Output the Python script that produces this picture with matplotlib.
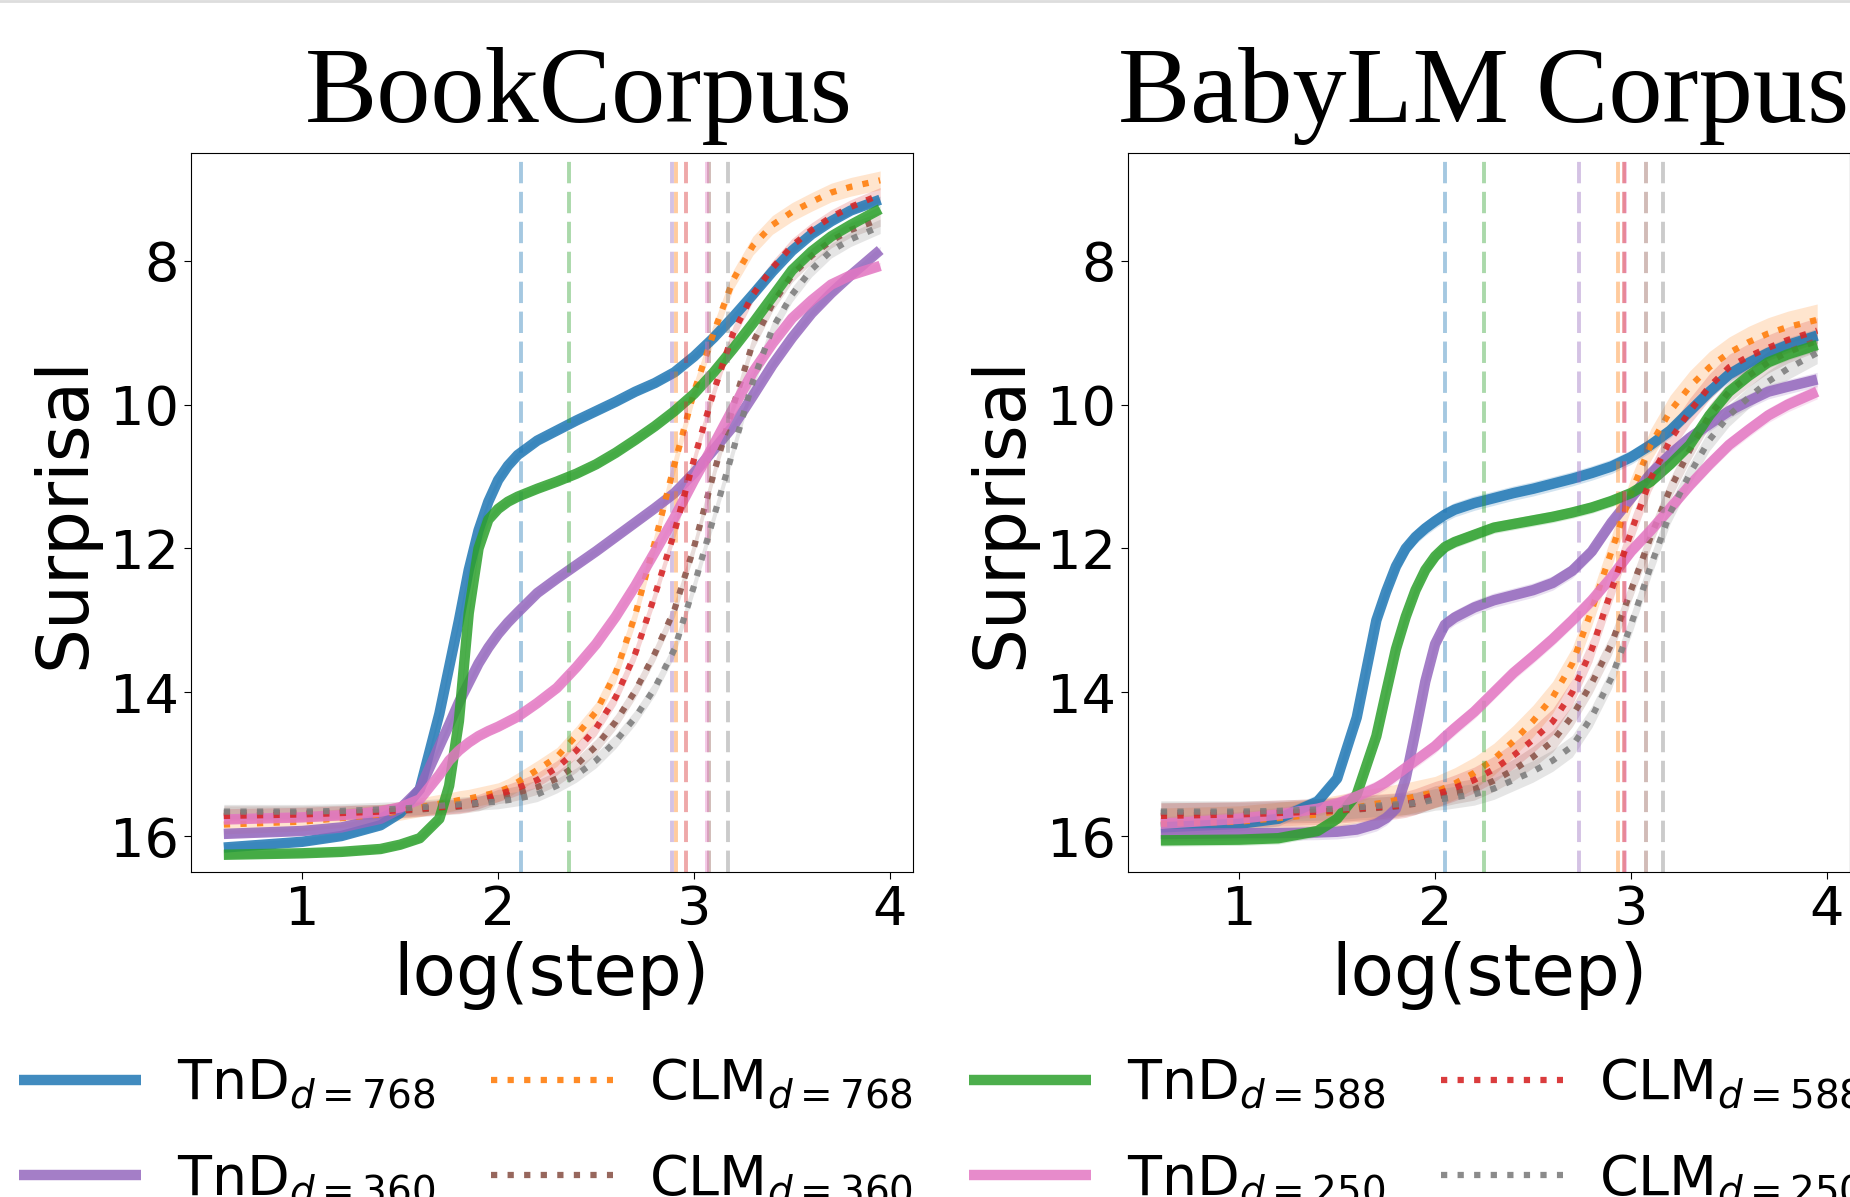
import numpy as np
import matplotlib
matplotlib.use("Agg")
import matplotlib.pyplot as plt

# common log(step) grid used for every curve
log_step = [0.6, 1.0, 1.2, 1.4, 1.5, 1.6, 1.7, 1.75, 1.8, 1.85, 1.9, 1.95, 2.0, 2.05,
            2.1, 2.2, 2.3, 2.4, 2.5, 2.6, 2.7, 2.8, 2.9, 3.0, 3.1, 3.2, 3.3, 3.4,
            3.5, 3.6, 3.7, 3.8, 3.95]

# BookCorpus
book_tnd_768 = [16.16, 16.08, 16.0, 15.85, 15.68, 15.35, 14.3, 13.65, 13.0, 12.3, 11.75, 11.35, 11.05, 10.85,
                10.7, 10.5, 10.36, 10.22, 10.09, 9.96, 9.82, 9.7, 9.55, 9.33, 9.07, 8.78, 8.47, 8.15,
                7.86, 7.63, 7.45, 7.3, 7.15]
book_tnd_588 = [16.26, 16.24, 16.22, 16.18, 16.12, 16.03, 15.76, 15.3, 14.4, 12.9, 12.0, 11.6, 11.45, 11.35,
                11.28, 11.17, 11.07, 10.96, 10.83, 10.67, 10.49, 10.3, 10.09, 9.85, 9.55, 9.22, 8.87, 8.5,
                8.13, 7.87, 7.66, 7.5, 7.28]
book_tnd_360 = [15.97, 15.93, 15.88, 15.76, 15.62, 15.35, 14.75, 14.45, 14.14, 13.87, 13.6, 13.38, 13.19, 13.03,
                12.89, 12.62, 12.42, 12.23, 12.04, 11.84, 11.64, 11.44, 11.23, 10.95, 10.63, 10.3, 9.88, 9.45,
                9.07, 8.73, 8.45, 8.2, 7.85]
book_tnd_250 = [15.77, 15.74, 15.71, 15.66, 15.6, 15.49, 15.15, 14.95, 14.81, 14.7, 14.61, 14.54, 14.48, 14.41,
                14.34, 14.15, 13.94, 13.65, 13.33, 12.95, 12.52, 12.05, 11.57, 11.05, 10.56, 10.05, 9.55, 9.15,
                8.8, 8.55, 8.33, 8.2, 8.07]
book_clm_768 = [15.84, 15.8, 15.75, 15.7, 15.65, 15.6, 15.55, 15.53, 15.5, 15.48, 15.45, 15.42, 15.39, 15.33,
                15.25, 15.08, 14.9, 14.6, 14.27, 13.73, 12.92, 11.91, 10.83, 9.82, 9.0, 8.26, 7.79, 7.5,
                7.32, 7.18, 7.05, 6.97, 6.88]
book_clm_588 = [15.72, 15.7, 15.68, 15.66, 15.64, 15.62, 15.6, 15.59, 15.58, 15.56, 15.52, 15.47, 15.42, 15.38,
                15.33, 15.22, 15.05, 14.81, 14.5, 14.07, 13.46, 12.65, 11.77, 10.76, 9.82, 9.0, 8.47, 8.1,
                7.79, 7.57, 7.39, 7.25, 7.08]
book_clm_360 = [15.68, 15.68, 15.67, 15.66, 15.65, 15.63, 15.61, 15.6, 15.59, 15.57, 15.55, 15.5, 15.45, 15.43,
                15.4, 15.32, 15.2, 15.01, 14.75, 14.41, 13.98, 13.46, 12.85, 11.98, 10.96, 10.02, 9.14, 8.6,
                8.2, 7.93, 7.72, 7.57, 7.42]
book_clm_250 = [15.66, 15.66, 15.65, 15.63, 15.62, 15.6, 15.58, 15.57, 15.56, 15.55, 15.54, 15.53, 15.52, 15.5,
                15.48, 15.42, 15.3, 15.15, 14.95, 14.68, 14.35, 13.94, 13.4, 12.52, 11.57, 10.63, 9.68, 8.94,
                8.47, 8.12, 7.86, 7.7, 7.52]

# BabyLM Corpus
baby_tnd_768 = [15.88, 15.83, 15.76, 15.52, 15.2, 14.35, 13.0, 12.6, 12.25, 12.0, 11.84, 11.72, 11.62, 11.53,
                11.46, 11.37, 11.3, 11.23, 11.17, 11.1, 11.03, 10.95, 10.86, 10.73, 10.56, 10.36, 10.09, 9.82,
                9.58, 9.42, 9.28, 9.17, 9.04]
baby_tnd_588 = [16.06, 16.05, 16.03, 15.93, 15.76, 15.42, 14.61, 14.0, 13.4, 12.95, 12.58, 12.3, 12.11, 11.98,
                11.91, 11.81, 11.71, 11.66, 11.61, 11.56, 11.5, 11.43, 11.34, 11.23, 11.07, 10.83, 10.56, 10.15,
                9.82, 9.6, 9.41, 9.3, 9.17]
baby_tnd_360 = [15.97, 15.96, 15.96, 15.95, 15.94, 15.91, 15.83, 15.75, 15.62, 15.2, 14.54, 13.85, 13.33, 13.06,
                12.96, 12.82, 12.72, 12.65, 12.58, 12.48, 12.31, 12.04, 11.64, 11.3, 10.96, 10.69, 10.46, 10.27,
                10.09, 9.95, 9.82, 9.75, 9.65]
baby_tnd_250 = [15.83, 15.76, 15.7, 15.62, 15.55, 15.45, 15.33, 15.25, 15.15, 15.05, 14.95, 14.85, 14.75, 14.62,
                14.5, 14.27, 14.0, 13.73, 13.5, 13.26, 13.0, 12.72, 12.4, 12.04, 11.75, 11.44, 11.12, 10.83,
                10.56, 10.35, 10.15, 10.0, 9.82]
baby_clm_768 = [15.83, 15.8, 15.75, 15.7, 15.65, 15.6, 15.55, 15.53, 15.5, 15.48, 15.45, 15.42, 15.39, 15.33,
                15.27, 15.12, 14.93, 14.68, 14.4, 14.07, 13.6, 12.85, 12.04, 11.23, 10.56, 10.09, 9.75, 9.48,
                9.28, 9.13, 9.01, 8.92, 8.82]
baby_clm_588 = [15.72, 15.7, 15.68, 15.66, 15.64, 15.62, 15.6, 15.59, 15.58, 15.56, 15.52, 15.47, 15.42, 15.38,
                15.33, 15.22, 15.07, 14.88, 14.66, 14.41, 14.0, 13.4, 12.58, 11.77, 11.03, 10.49, 10.09, 9.75,
                9.48, 9.33, 9.21, 9.1, 8.97]
baby_clm_360 = [15.68, 15.68, 15.67, 15.66, 15.65, 15.63, 15.61, 15.6, 15.59, 15.57, 15.55, 15.5, 15.45, 15.43,
                15.4, 15.35, 15.23, 15.08, 14.9, 14.68, 14.33, 13.87, 13.33, 12.58, 11.84, 11.17, 10.63, 10.15,
                9.82, 9.6, 9.41, 9.27, 9.11]
baby_clm_250 = [15.66, 15.66, 15.65, 15.63, 15.62, 15.6, 15.58, 15.57, 15.56, 15.55, 15.54, 15.52, 15.49, 15.48,
                15.46, 15.42, 15.34, 15.22, 15.1, 14.95, 14.75, 14.34, 13.8, 13.06, 12.25, 11.5, 10.96, 10.49,
                10.15, 9.9, 9.68, 9.5, 9.28]

# series order (legend fills column by column)
series_names = ["tnd_768", "tnd_360", "clm_768", "clm_360", "tnd_588", "tnd_250", "clm_588", "clm_250"]
series_labels = [r"TnD$_{d=768}$", r"TnD$_{d=360}$", r"CLM$_{d=768}$", r"CLM$_{d=360}$",
                 r"TnD$_{d=588}$", r"TnD$_{d=250}$", r"CLM$_{d=588}$", r"CLM$_{d=250}$"]
series_colors = ["tab:blue", "tab:purple", "tab:orange", "tab:brown",
                 "tab:green", "tab:pink", "tab:red", "tab:gray"]

book = {"tnd_768": book_tnd_768, "tnd_360": book_tnd_360, "clm_768": book_clm_768, "clm_360": book_clm_360,
        "tnd_588": book_tnd_588, "tnd_250": book_tnd_250, "clm_588": book_clm_588, "clm_250": book_clm_250}
baby = {"tnd_768": baby_tnd_768, "tnd_360": baby_tnd_360, "clm_768": baby_clm_768, "clm_360": baby_clm_360,
        "tnd_588": baby_tnd_588, "tnd_250": baby_tnd_250, "clm_588": baby_clm_588, "clm_250": baby_clm_250}

# vertical marker positions (same series order)
book_vlines = [2.116, 2.89, 2.906, 3.077, 2.361, 3.065, 2.961, 3.173]
baby_vlines = [2.051, 2.736, 2.933, 3.078, 2.251, 2.968, 2.962, 3.162]

# half width of the shaded bands
book_band = [0.05, 0.05, 0.13, 0.1, 0.05, 0.05, 0.1, 0.1]
baby_band = [0.1, 0.1, 0.22, 0.15, 0.08, 0.1, 0.18, 0.15]

fig = plt.figure(figsize=(18.5, 11.97), dpi=100)
W, H = 1850, 1197


def px_axes(x0, y0, x1, y1):
    return fig.add_axes([x0 / W, 1 - y1 / H, (x1 - x0) / W, (y1 - y0) / H])


ax_book = px_axes(191, 153, 913, 872)
ax_baby = px_axes(1128, 153, 1850, 872)

handles = []
for ax, data, vlines, band, title, tx in [
        (ax_book, book, book_vlines, book_band, "BookCorpus", 0.537),
        (ax_baby, baby, baby_vlines, baby_band, "BabyLM Corpus", 0.493)]:
    x = np.array(log_step)
    for i, name in enumerate(series_names):
        y = np.array(data[name])
        c = series_colors[i]
        if name.startswith("tnd"):
            ln, = ax.plot(x, y, color=c, lw=7.5, alpha=0.85, solid_capstyle="butt",
                          solid_joinstyle="round", label=series_labels[i])
        else:
            ln, = ax.plot(x, y, color=c, lw=4.5, ls=":", alpha=0.9,
                          label=series_labels[i])
        ax.fill_between(x, y - band[i], y + band[i], color=c, alpha=0.2, lw=0)
        ax.axvline(vlines[i], color=c, lw=2.8, ls=(0, (5.5, 2.2)), alpha=0.4)
        if ax is ax_book:
            handles.append(ln)

    ax.set_xlim(0.4325, 4.1175)
    ax.set_ylim(16.5, 6.5)
    ax.set_xticks([1, 2, 3, 4])
    ax.set_yticks([8, 10, 12, 14, 16])
    ax.tick_params(labelsize=39, length=5)
    ax.set_xlabel("log(step)", fontsize=51, labelpad=4)
    ax.set_ylabel("Surprisal", fontsize=51, labelpad=8)
    ax.set_title(title, fontsize=78, family="Liberation Serif", pad=22, x=tx)

fig.legend(handles, series_labels, loc="upper left", bbox_to_anchor=(-0.017, 1 - 1007 / H),
           ncol=4, frameon=False, fontsize=40, handlelength=2.2, handletextpad=0.65,
           columnspacing=1.0, labelspacing=0.75)

fig.add_artist(plt.Line2D([0, 1], [0.9992, 0.9992], color="#dddddd", lw=2,
                          transform=fig.transFigure))

fig.savefig("out.png", dpi=100)
